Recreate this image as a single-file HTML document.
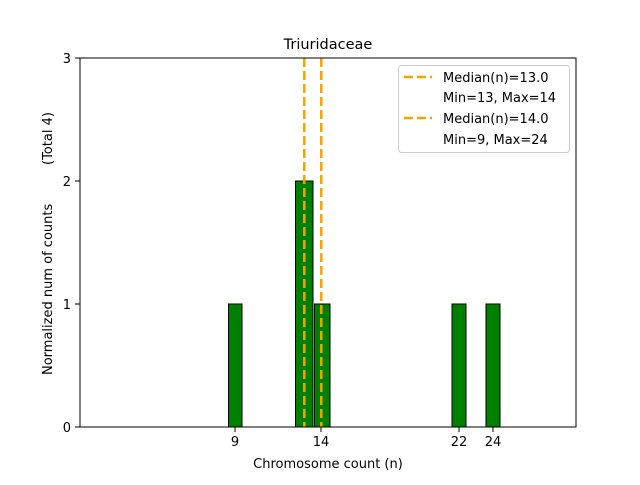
<!DOCTYPE html>
<html><head><style>
body{margin:0;background:#fff;}
svg text{font-family:"DejaVu Sans","Liberation Sans",sans-serif;}
</style></head><body>
<svg width="640" height="480" xmlns="http://www.w3.org/2000/svg">
<rect width="640" height="480" fill="#fff"/>
<line x1="80" y1="427" x2="380" y2="427" stroke="#ccc" stroke-width="1"/>
<g fill="#008000" stroke="#000" stroke-width="1">
<rect x="228.5" y="304" width="13.5" height="123"/>
<rect x="295.5" y="181" width="17.5" height="246"/>
<rect x="314.5" y="304" width="15.5" height="123"/>
<rect x="452" y="304" width="14" height="123"/>
<rect x="486" y="304" width="14" height="123"/>
</g>
<g stroke="#f5a300" stroke-width="2.5" stroke-dasharray="9,4">
<line x1="304.3" y1="58" x2="304.3" y2="427"/>
<line x1="321.3" y1="58" x2="321.3" y2="427"/>
</g>
<rect x="80" y="58" width="496" height="369" fill="none" stroke="#000" stroke-width="1"/>
<g stroke="#000" stroke-width="1">
<line x1="75" y1="427" x2="80" y2="427"/><line x1="75" y1="304" x2="80" y2="304"/>
<line x1="75" y1="181" x2="80" y2="181"/><line x1="75" y1="58" x2="80" y2="58"/>
<line x1="235" y1="427" x2="235" y2="432"/><line x1="321" y1="427" x2="321" y2="432"/>
<line x1="459" y1="427" x2="459" y2="432"/><line x1="493" y1="427" x2="493" y2="432"/>
</g>
<g font-size="13" fill="#000">
<text x="71" y="432" text-anchor="end">0</text>
<text x="71" y="309" text-anchor="end">1</text>
<text x="71" y="186" text-anchor="end">2</text>
<text x="71" y="63" text-anchor="end">3</text>
<text x="235" y="446" text-anchor="middle">9</text>
<text x="321" y="446" text-anchor="middle">14</text>
<text x="459" y="446" text-anchor="middle">22</text>
<text x="493" y="446" text-anchor="middle">24</text>
<text x="328" y="468" text-anchor="middle">Chromosome count (n)</text>
<text x="328" y="49" text-anchor="middle" font-size="14.5">Triuridaceae</text>
<text transform="translate(52,375) rotate(-90)" text-anchor="start">Normalized num of counts</text>
<text transform="translate(52,165) rotate(-90)" text-anchor="start">(Total 4)</text>
</g>
<rect x="398.5" y="65.5" width="171" height="87" rx="3" fill="#fff" fill-opacity="0.8" stroke="#ccc"/>
<g stroke="#f5a300" stroke-width="2.5" stroke-dasharray="9,4">
<line x1="404" y1="77" x2="432" y2="77"/>
<line x1="404" y1="118" x2="432" y2="118"/>
</g>
<g font-size="13" fill="#000">
<text x="443" y="82">Median(n)=13.0</text>
<text x="443" y="102">Min=13, Max=14</text>
<text x="443" y="123">Median(n)=14.0</text>
<text x="443" y="144">Min=9, Max=24</text>
</g>
</svg>
</body></html>
